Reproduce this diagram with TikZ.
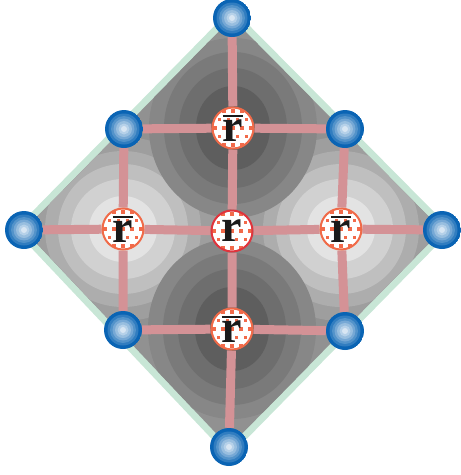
\documentclass[tikz,border=0pt]{standalone}
\usepackage{fontspec}
\setmainfont{Liberation Serif}
\usepackage{tikz}
\pgfdeclarelayer{bg}
\pgfdeclarelayer{rods}
\pgfsetlayers{bg,rods,main}
\definecolor{beadblue}{HTML}{0A64B4}
\definecolor{rodpink}{HTML}{D49296}
\definecolor{rimgreen}{HTML}{C8E6D6}
\definecolor{speck}{HTML}{F26A4A}
\definecolor{ring}{HTML}{F06A48}
\definecolor{ringc}{HTML}{E0343C}
\definecolor{ink}{HTML}{1A1A1A}
\newcommand\rbar{\vbox{\hrule height 2pt \kern 2.5pt \hbox{r}}}
\tikzset{every picture/.style = {x=1pt, y=-1pt}}
\tikzset{bead/.style = {shape=circle, minimum size=38pt, inner sep=0pt,
  path picture={\foreach \rr/\cc in {19/100,15.5/84,13/70,10.5/56,8/42,5.5/30,3/16}
    \fill[beadblue!\cc!white] (path picture bounding box.center) circle (\rr pt);}}}
\tikzset{site/.style = {shape=circle, fill=white, draw=ring, line width=2pt,
  minimum size=41pt, inner sep=0pt, text=ink, font=\fontsize{46}{46}\selectfont\bfseries,
  path picture={\foreach \j [evaluate=\j as \off using {mod(abs(\j),2)*4.5}] in {-2,...,2}
    \foreach \i in {-3,...,2}
    \fill[speck] ([shift={(\i*9+\off-1.7, \j*8.5-1.7)}]path picture bounding box.center)
      rectangle +(3.4,3.4);}}}
\tikzset{rod/.style = {draw=rodpink, line width=9pt}}

\begin{document}
\begin{tikzpicture}
  \useasboundingbox (0,0) rectangle (461,475);
  % beads
  \node[bead] (n) at (232,18) {};
  \node[bead] (w) at (24,230) {};
  \node[bead] (e) at (442,230) {};
  \node[bead] (s) at (229,447) {};
  \node[bead] (nw) at (124,129) {};
  \node[bead] (ne) at (345,129) {};
  \node[bead] (sw) at (123,330) {};
  \node[bead] (se) at (345,331) {};
  % sites
  \node[site] (rn) at (233,128) {\rbar};
  \node[site] (rw) at (123,229) {\rbar};
  \node[site] (re) at (341,229) {\rbar};
  \node[site] (rs) at (232,329) {\rbar};
  \node[site, draw=ringc] (rc) at (232,231) {r};
  % rods
  \begin{pgfonlayer}{rods}
    \draw[rod] (nw) -- (rn) -- (ne);
    \draw[rod] (w) -- (rw) -- (rc) -- (re) -- (e);
    \draw[rod] (sw) -- (rs) -- (se);
    \draw[rod] (nw) -- (rw) -- (sw);
    \draw[rod] (n) -- (rn) -- (rc) -- (rs) -- (s);
    \draw[rod] (ne) -- (re) -- (se);
  \end{pgfonlayer}
  % field
  \begin{pgfonlayer}{bg}
    \draw[rimgreen, line width=14pt] (n.center) -- (e.center)
      -- (s.center) -- (w.center) -- cycle;
    \begin{scope}
      \clip (n.center) -- (e.center) -- (s.center) -- (w.center) -- cycle;
      \definecolor{lvl}{gray}{0.57}
      \fill[lvl] (0,0) rectangle (461,475);
      \foreach \rx/\ry/\gg in {96/92/0.62, 78/78/0.68, 65/65/0.75, 52/50/0.82, 34/33/0.89} {
        \definecolor{lvl}{gray}{\gg}
        \fill[lvl] (rw.center) ellipse ({\rx} and {\ry});
        \fill[lvl] (re.center) ellipse ({\rx} and {\ry});
      }
      \foreach \rx/\ry/\gg in {84/90/0.53, 69/76/0.48, 54/60/0.43, 37/42/0.37} {
        \definecolor{lvl}{gray}{\gg}
        \fill[lvl] (rn.center) ellipse ({\rx} and {\ry});
        \fill[lvl] (rs.center) ellipse ({\rx} and {\ry});
      }
    \end{scope}
  \end{pgfonlayer}
\end{tikzpicture}
\end{document}
